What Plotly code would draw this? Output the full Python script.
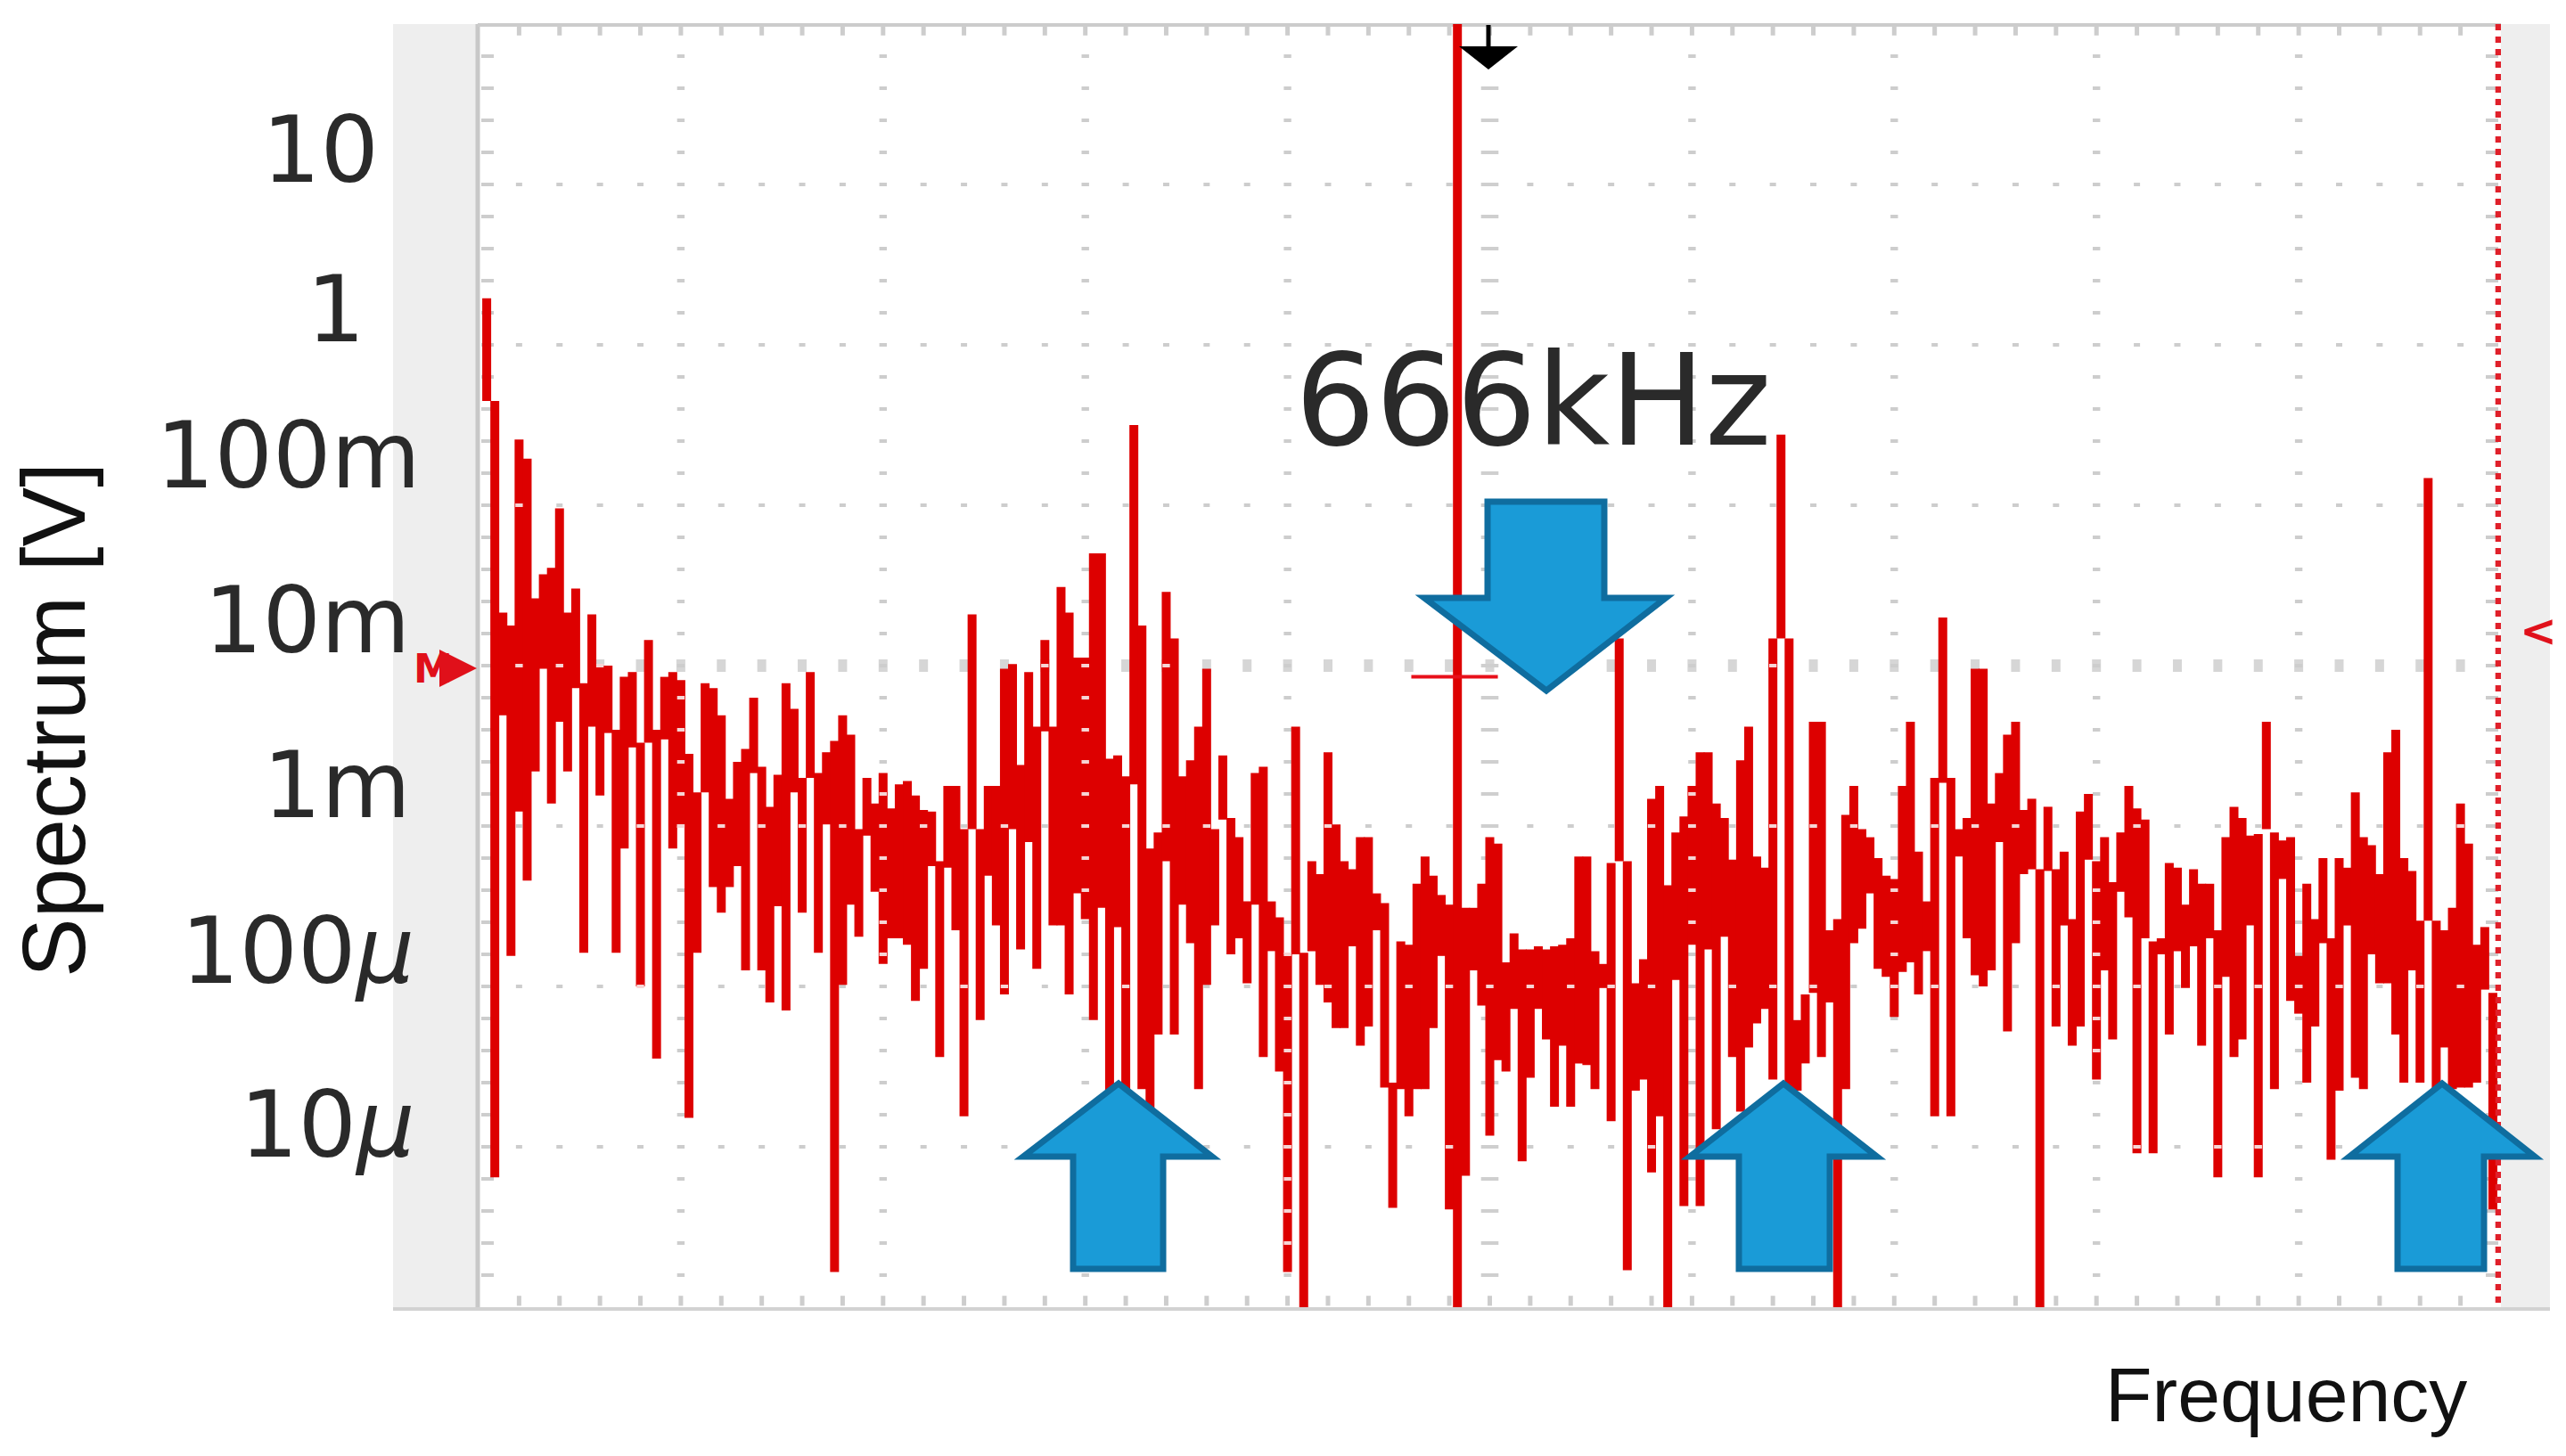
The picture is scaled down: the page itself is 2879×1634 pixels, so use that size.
import plotly.graph_objects as go

# FFT bin spacing of the spectrum display, kHz (bin 121 = 666 kHz)
BIN_KHZ = 5.504
SPAN_BINS = 250

# Envelope of each spectrum bin, log10(volts); bins 1..249
peak_log10_v = [
 0.29,-0.35,-1.67,-1.75,-0.59,-0.71,-1.58,-1.43,-1.39,-1.02,-1.67,-1.52,-2.11,-1.68,-2.00,-2.00,-2.40,-2.07,-2.04,-2.48,
 -1.84,-2.40,-2.07,-2.04,-2.09,-2.55,-2.79,-2.11,-2.14,-2.31,-2.83,-2.60,-2.52,-2.20,-2.63,-2.88,-2.68,-2.11,-2.27,-2.70,
 -2.04,-2.67,-2.54,-2.47,-2.31,-2.43,-3.02,-2.70,-2.86,-2.67,-2.89,-2.74,-2.72,-2.81,-2.90,-2.91,-3.22,-2.75,-2.75,-3.02,
 -1.68,-3.02,-2.75,-2.75,-2.02,-1.99,-2.62,-2.04,-2.38,-1.84,-2.38,-1.51,-1.67,-1.95,-1.95,-1.30,-1.30,-2.58,-2.56,-2.69,
 -0.50,-1.75,-3.14,-3.04,-1.54,-1.83,-2.69,-2.59,-2.38,-2.02,-3.02,-2.56,-2.95,-3.07,-3.47,-2.67,-2.63,-3.47,-3.57,-3.80,
 -2.38,-3.79,-3.22,-3.30,-2.54,-2.99,-3.22,-3.27,-3.07,-3.07,-3.42,-3.48,-4.60,-3.72,-3.74,-3.36,-3.19,-3.31,-3.43,-3.49,
 2.00,-3.51,-3.51,-3.36,-3.07,-3.11,-3.85,-3.67,-3.77,-3.77,-3.75,-3.77,-3.75,-3.74,-3.70,-3.19,-3.19,-3.78,-3.86,-3.23,
 -1.83,-3.22,-3.98,-3.83,-2.83,-2.75,-3.37,-3.04,-2.94,-2.75,-2.54,-2.54,-2.86,-2.95,-3.21,-2.59,-2.38,-3.19,-3.26,-1.83,
 -0.56,-1.83,-4.21,-4.05,-2.35,-2.35,-3.65,-3.58,-2.93,-2.75,-3.02,-3.07,-3.20,-3.31,-3.33,-2.75,-2.35,-3.16,-3.47,-2.70,
 -1.70,-2.70,-3.02,-2.95,-2.02,-2.02,-2.86,-2.67,-2.43,-2.35,-2.90,-2.83,-3.27,-2.88,-3.27,-3.16,-3.58,-2.91,-2.80,-3.22,
 -3.07,-3.35,-3.04,-2.75,-2.89,-2.96,-3.72,-3.70,-3.23,-3.26,-3.49,-3.27,-3.36,-3.36,-3.65,-3.07,-2.88,-2.95,-3.06,-3.05,
 -2.35,-3.04,-3.09,-3.07,-3.81,-3.36,-3.58,-3.20,-3.70,-3.20,-3.26,-2.79,-3.07,-3.12,-3.30,-2.54,-2.40,-3.20,-3.28,-3.59,
 -0.83,-3.59,-3.65,-3.51,-2.86,-3.11,-3.74,-3.63,-4.04,
]
floor_log10_v = [
 -0.35,-5.19,-2.31,-3.81,-2.91,-3.34,-2.66,-2.02,-2.86,-2.35,-2.66,-2.14,-3.79,-2.38,-2.81,-2.42,-3.79,-3.14,-2.51,-4.00,
 -2.48,-4.45,-2.46,-3.14,-3.00,-4.82,-3.79,-2.79,-3.38,-3.54,-3.38,-3.25,-3.90,-2.67,-3.90,-4.10,-3.50,-4.15,-2.79,-3.54,
 -2.70,-3.79,-2.99,-5.78,-3.99,-3.49,-3.69,-3.06,-3.41,-3.86,-3.70,-3.70,-3.74,-4.09,-3.89,-3.25,-4.44,-3.26,-3.65,-4.81,
 -3.02,-4.21,-3.31,-3.62,-4.05,-3.02,-3.77,-3.10,-3.89,-2.41,-3.62,-3.62,-4.05,-3.42,-3.58,-4.21,-3.51,-4.70,-3.63,-4.70,
 -2.74,-4.64,-4.90,-4.30,-3.22,-4.30,-3.49,-3.73,-4.64,-3.99,-3.62,-2.96,-3.80,-3.70,-3.98,-3.49,-4.44,-3.78,-4.53,-5.78,
 -3.80,-6.00,-3.78,-3.99,-4.10,-4.26,-4.26,-3.75,-4.37,-4.25,-3.65,-4.63,-5.38,-4.64,-4.81,-4.64,-4.64,-4.26,-3.81,-5.39,
 -6.00,-5.18,-3.90,-4.12,-4.93,-4.46,-4.53,-4.14,-5.09,-4.57,-4.14,-4.33,-4.75,-4.37,-4.75,-4.48,-4.49,-4.64,-4.01,-4.84,
 -3.22,-5.77,-4.65,-4.58,-5.16,-4.81,-6.00,-3.96,-5.37,-3.74,-5.37,-3.77,-4.89,-3.69,-4.44,-4.78,-4.38,-4.23,-4.14,-4.58,
 -1.83,-4.70,-4.65,-4.48,-4.04,-4.44,-4.10,-6.00,-4.64,-3.73,-3.64,-3.42,-3.89,-3.94,-4.19,-3.91,-3.85,-4.05,-3.78,-4.81,
 -2.73,-4.81,-3.19,-3.70,-3.93,-4.00,-3.90,-3.10,-4.28,-3.73,-3.30,-3.27,-6.00,-3.28,-4.25,-3.62,-4.37,-4.25,-3.21,-4.58,
 -3.90,-4.33,-3.41,-3.57,-5.04,-3.70,-5.04,-3.80,-4.30,-3.78,-4.01,-3.75,-4.37,-3.70,-5.19,-3.94,-4.44,-4.33,-3.62,-5.19,
 -3.02,-4.64,-3.33,-4.09,-4.17,-4.60,-4.25,-3.73,-5.08,-4.65,-3.62,-4.57,-4.64,-3.80,-3.98,-3.98,-4.30,-4.60,-3.90,-4.60,
 -3.59,-4.70,-4.38,-4.64,-4.63,-4.63,-4.60,-4.02,-5.39,
]

# Value-axis decades and their printed labels
decade_labels = ["10", "1", "100m", "10m", "1m", "100<i>µ</i>", "10<i>µ</i>"]
decade_log10_v = [1, 0, -1, -2, -3, -4, -5]
label_right_px = [427, 412, 474, 462, 463, 467, 468]
label_center_px = [168, 347, 511, 696, 881, 1067, 1262]

PLOT_L, PLOT_R, PLOT_T, PLOT_B = 537, 2806, 27, 1467
W, H = 2879, 1634
RED = "#dd0000"
FG = "#2a2a2a"

def X(px): return (px - PLOT_L) / (PLOT_R - PLOT_L)
def Y(py): return 1 - (py - PLOT_T) / (PLOT_B - PLOT_T)

bins = list(range(1, len(peak_log10_v) + 1))
freq_khz = [k * BIN_KHZ for k in bins]
span_khz = SPAN_BINS * BIN_KHZ

trace_x, trace_y = [], []
for f, hi, lo in zip(freq_khz, peak_log10_v, floor_log10_v):
    trace_x += [f, f, None]
    trace_y += [10 ** hi, 10 ** lo, None]

def inside(k, v):
    if not 1 <= k <= len(bins):
        return False
    return floor_log10_v[k - 1] <= v <= peak_log10_v[k - 1]

# Scope graticule
minor_k = list(range(5, SPAN_BINS, 5))
major_k = list(range(25, SPAN_BINS, 25))
fifth_v = [i / 5 for i in range(-29, 10)]
row_pts = [(k, v) for v in decade_log10_v if v != -2 for k in minor_k]
mid_row_pts = [(k, -2) for k in minor_k]
col_pts = [(k, v) for k in major_k if k != 125 for v in fifth_v]
mid_col_pts = [(125, v) for v in fifth_v]

def grid_trace(points, symbol, size, width, color="#cdcdcd"):
    return go.Scatter(
        x=[k * BIN_KHZ for k, _ in points], y=[10 ** v for _, v in points],
        mode="markers", hoverinfo="skip", showlegend=False,
        marker=dict(symbol=symbol, size=size, color=color, line=dict(width=width, color=color)))

fig = go.Figure()
fig.add_trace(grid_trace(row_pts, "line-ew", 5, 4))
fig.add_trace(grid_trace(mid_row_pts, "line-ns", 10, 10, "#d6d6d6"))
fig.add_trace(grid_trace(col_pts, "line-ew", 6, 4))
fig.add_trace(grid_trace(mid_col_pts, "line-ew", 14, 4, "#cfcfcf"))
fig.add_trace(grid_trace([(1.1, v) for v in fifth_v], "line-ew", 10, 4))
fig.add_trace(grid_trace([(248.9, v) for v in fifth_v], "line-ew", 10, 4))
fig.add_trace(grid_trace([(k, 1.96) for k in minor_k], "line-ns", 8, 5))
fig.add_trace(grid_trace([(k, -5.96) for k in minor_k], "line-ns", 8, 5))

# Spectrum trace
fig.add_trace(go.Scatter(x=trace_x, y=trace_y, mode="lines", showlegend=False,
                         hoverinfo="skip", line=dict(color=RED, width=10)))

# Graticule dots show through the trace as pale marks
over = [p for p in row_pts + col_pts + mid_row_pts if inside(*p)]
fig.add_trace(grid_trace(over, "line-ew", 6, 4, "#f6d5d5"))

# Right-hand cursor and the centre marker
cursor_khz = 249.75 * BIN_KHZ
fig.add_trace(go.Scatter(x=[cursor_khz, cursor_khz], y=[100, 1e-6], mode="lines", showlegend=False,
                         hoverinfo="skip", line=dict(color="#e0202a", width=8, dash="7px,7px")))
fig.add_trace(go.Scatter(x=[115.3 * BIN_KHZ, 126 * BIN_KHZ], y=[10 ** -2.07, 10 ** -2.07], mode="lines",
                         showlegend=False, hoverinfo="skip", line=dict(color="#e8101a", width=4)))

def poly(points, fill, line=None, lw=0):
    path = "M " + " L ".join(f"{X(a):.5f},{Y(b):.5f}" for a, b in points) + " Z"
    return dict(type="path", xref="paper", yref="paper", path=path, fillcolor=fill,
                line=dict(color=line or fill, width=lw), layer="above")

def up_arrow(tip, left, right, s_l, s_r):
    return [(tip, 1216), (right, 1298), (s_r, 1298), (s_r, 1424), (s_l, 1424), (s_l, 1298), (left, 1298)]

BLUE, EDGE = "#1a9bd7", "#0f6d9f"
shapes = [
    dict(type="rect", xref="paper", yref="paper", x0=X(441), x1=0, y0=Y(1470), y1=Y(27),
         fillcolor="#eeeeee", line=dict(width=0), layer="below"),
    dict(type="rect", xref="paper", yref="paper", x0=1, x1=X(2861), y0=Y(1470), y1=Y(27),
         fillcolor="#eeeeee", line=dict(width=0), layer="below"),
    dict(type="line", xref="paper", yref="paper", x0=X(536), x1=X(536), y0=Y(1470), y1=Y(27),
         line=dict(color="#c8c8c8", width=5), layer="below"),
    dict(type="line", xref="paper", yref="paper", x0=X(441), x1=X(2861), y0=Y(1469), y1=Y(1469),
         line=dict(color="#d2d2d2", width=4), layer="below"),
    dict(type="line", xref="paper", yref="paper", x0=X(536), x1=X(2806), y0=Y(28), y1=Y(28),
         line=dict(color="#cccccc", width=4), layer="below"),
    poly(up_arrow(1255, 1148, 1360, 1204, 1305), BLUE, EDGE, 7),
    poly(up_arrow(2001, 1896, 2106, 1951, 2053), BLUE, EDGE, 7),
    poly(up_arrow(2740, 2636, 2844, 2690, 2787), BLUE, EDGE, 7),
    poly([(1735, 775), (1869, 671), (1800, 671), (1800, 563), (1669, 563), (1669, 671), (1598, 671)], BLUE, EDGE, 7),
    poly([(1637, 52), (1703, 52), (1670, 78)], "#000000"),
    dict(type="line", xref="paper", yref="paper", x0=X(1670), x1=X(1670), y0=Y(28), y1=Y(55),
         line=dict(color="#000000", width=5), layer="above"),
]

def note(text, x, y, size, xanchor="center", family="DejaVu Sans", color=FG, angle=0):
    return dict(text=text, x=X(x), y=Y(y), xref="paper", yref="paper", showarrow=False,
                xanchor=xanchor, yanchor="middle", textangle=angle,
                font=dict(family=family, size=size, color=color))

annotations = [note(t, r, c, 103, xanchor="right")
               for t, r, c in zip(decade_labels, label_right_px, label_center_px)]
annotations += [
    note("666kHz", 1720, 450, 142, color="#2a2a2a"),
    note("Spectrum [V]", 60, 808, 100, family="Liberation Sans", color="#111111", angle=-90),
    note("Frequency", 2565, 1565, 86, family="Liberation Sans", color="#111111"),
    note("<b>M</b>", 486, 750, 44, color="#e0101a"),
    note("<b>&lt;</b>", 2848, 708, 50, color="#e0101a"),
    dict(x=X(535), y=Y(750), ax=-30, ay=0, xref="paper", yref="paper", axref="pixel", ayref="pixel",
         text="", showarrow=True, arrowhead=2, arrowsize=1.4, arrowwidth=6, arrowcolor="#e0101a"),
]

fig.update_layout(
    width=W, height=H,
    margin=dict(l=PLOT_L, r=W - PLOT_R, t=PLOT_T, b=H - PLOT_B, pad=0),
    paper_bgcolor="white", plot_bgcolor="white", showlegend=False,
    shapes=shapes, annotations=annotations,
    xaxis=dict(range=[0, span_khz], showgrid=False, zeroline=False, showticklabels=False, ticks="", showline=False),
    yaxis=dict(type="log", range=[-6, 2], showgrid=False, zeroline=False, showticklabels=False, ticks="", showline=False),
)
# Drop the browser's default 8 px page margin so the figure fills the window exactly
fig.write_html("out.html", config={"displayModeBar": False},
               post_script="document.body.style.margin='0';document.body.style.overflow='hidden';")
